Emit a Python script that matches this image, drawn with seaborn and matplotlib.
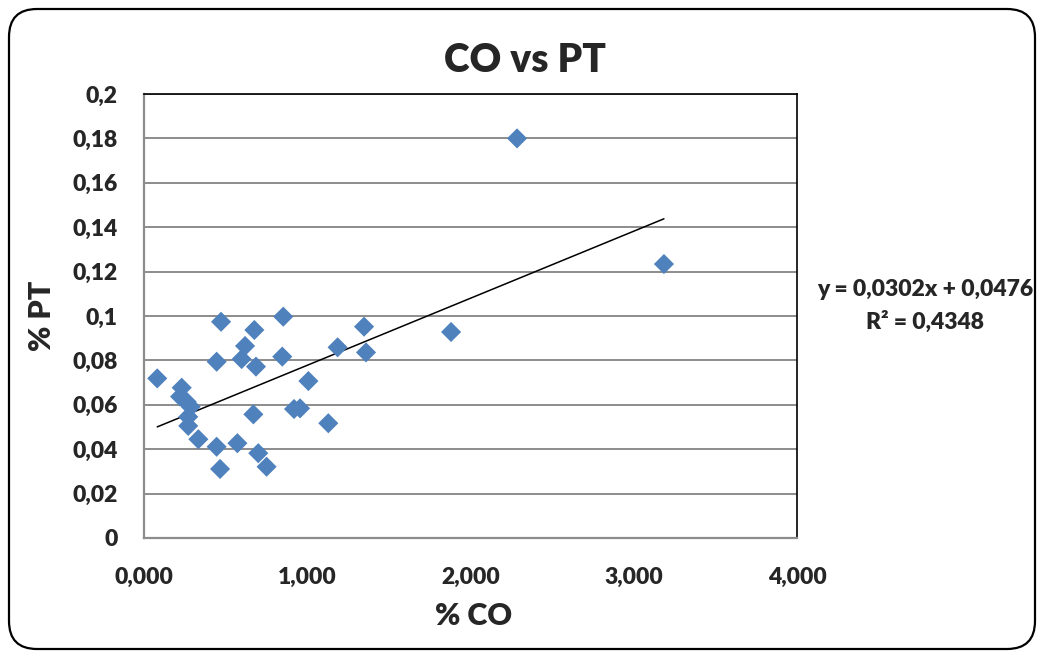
import matplotlib
matplotlib.use("Agg")
import matplotlib.pyplot as plt
from matplotlib.patches import FancyBboxPatch
import seaborn as sns
import pandas as pd
import numpy as np

# ---- data ----
co = [0.081, 0.231, 0.221, 0.261, 0.286, 0.271, 0.271, 0.333, 0.445, 0.466,
      0.472, 0.445, 0.572, 0.598, 0.619, 0.676, 0.686, 0.670, 0.700, 0.751,
      0.853, 0.847, 0.919, 0.956, 1.007, 1.129, 1.186, 1.348, 1.360, 1.881,
      2.285, 3.185]
pt = [0.0719, 0.0677, 0.0637, 0.0614, 0.0591, 0.0546, 0.0505, 0.0445, 0.0411, 0.0311,
      0.0974, 0.0794, 0.0427, 0.0806, 0.0865, 0.0937, 0.0772, 0.0557, 0.0382, 0.0321,
      0.0997, 0.0817, 0.0581, 0.0584, 0.0707, 0.0517, 0.0859, 0.0952, 0.0836, 0.0928,
      0.1800, 0.1234]
slope = 0.0302
intercept = 0.0476
equation_text = "y = 0,0302x + 0,0476"
r2_text = "R² = 0,4348"

x_ticks = [0, 1, 2, 3, 4]
x_ticklabels = ["0,000", "1,000", "2,000", "3,000", "4,000"]
y_ticks = [0, 0.02, 0.04, 0.06, 0.08, 0.1, 0.12, 0.14, 0.16, 0.18, 0.2]
y_ticklabels = ["0", "0,02", "0,04", "0,06", "0,08", "0,1", "0,12", "0,14", "0,16", "0,18", "0,2"]
title = "CO vs PT"
xlabel = "% CO"
ylabel = "% PT"

df = pd.DataFrame({"CO": co, "PT": pt})

sns.set_style("white")
plt.rcParams["font.family"] = ["Lato", "DejaVu Sans"]
W = "heavy"

fig = plt.figure(figsize=(10.42, 6.53), dpi=100)
ax = fig.add_axes([144 / 1042, 1 - 538 / 653, (797 - 144) / 1042, (538 - 94) / 653])

sns.scatterplot(data=df, x="CO", y="PT", marker="D", s=105, color="#4F81BD",
                edgecolor="none", linewidth=0, ax=ax, zorder=3)

# trendline
xl = np.array([min(co), max(co)])
ax.plot(xl, slope * xl + intercept, color="black", lw=1.1, zorder=2)

ax.set_xlim(0, 4)
ax.set_ylim(0, 0.2)
ax.set_xticks(x_ticks)
ax.set_xticklabels(x_ticklabels)
ax.set_yticks(y_ticks)
ax.set_yticklabels(y_ticklabels)
ax.tick_params(axis="x", length=0, pad=21, labelsize=16.5)
ax.tick_params(axis="y", length=0, pad=19, labelsize=16.5)
for lab in ax.get_xticklabels() + ax.get_yticklabels():
    lab.set_fontweight(W)

ax.yaxis.grid(True, color="#8C8C8C", lw=1.4, zorder=0)
ax.xaxis.grid(False)
ax.set_axisbelow(True)

for side in ["top", "right"]:
    ax.spines[side].set_color("black")
    ax.spines[side].set_linewidth(1.2)
for side in ["left", "bottom"]:
    ax.spines[side].set_color("#8C8C8C")
    ax.spines[side].set_linewidth(1.6)

ax.set_xlabel("")
ax.set_ylabel("")

fig.text(525 / 1042, 1 - 60 / 653, title, ha="center", va="center",
         fontsize=28, fontweight=W)
fig.text(474 / 1042, 1 - 616 / 653, xlabel, ha="center", va="center",
         fontsize=22, fontweight=W)
fig.text(42 / 1042, 1 - 316 / 653, ylabel, ha="center", va="center",
         fontsize=22, fontweight=W, rotation=90)
fig.text(925 / 1042, 1 - 289 / 653, equation_text, ha="center", va="center",
         fontsize=16.5, fontweight=W)
fig.text(925 / 1042, 1 - 322 / 653, r2_text, ha="center", va="center",
         fontsize=16.5, fontweight=W)

border = FancyBboxPatch((9, 4), 1026, 640,
                        boxstyle="round,pad=0,rounding_size=28",
                        transform=None, fill=False, edgecolor="black", lw=1.6)
fig.add_artist(border)

fig.savefig("out.png", dpi=100)
